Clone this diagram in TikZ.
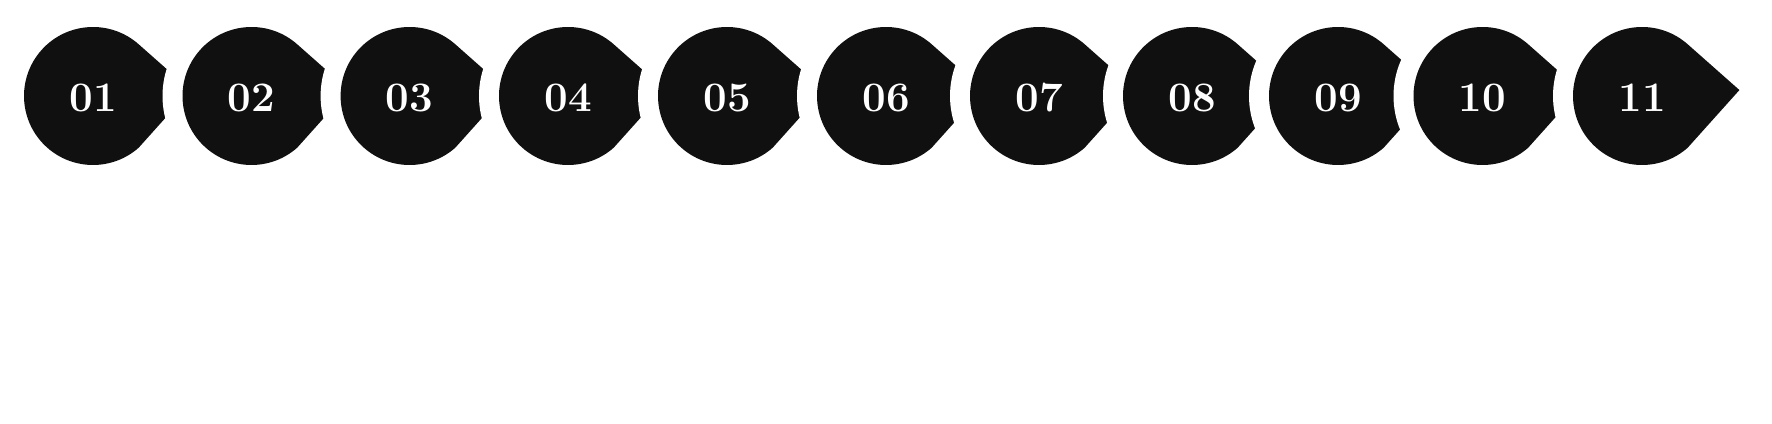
\documentclass[tikz,border=0pt]{standalone}
\usepackage{tikz}

\begin{document}
\begin{tikzpicture}[x=0.5pt,y=0.5pt,
    ink/.style={fill={rgb,255:red,16;green,16;blue,16}},
    gap/.style={fill=white},
    num/.style={text=white,inner sep=0pt,font=\fontsize{21}{25}\selectfont\bfseries}]
   \useasboundingbox (0,0) rectangle (1772,423);
    \fill[gap] (  93.0,327) circle(89);
    \fill[ink] (  93.0,327) +(3.5:97.58) -- +(48.5:69) arc(48.5:311.5:69) -- cycle;
    \fill[gap] ( 251.5,327) circle(89);
    \fill[ink] ( 251.5,327) +(3.5:97.58) -- +(48.5:69) arc(48.5:311.5:69) -- cycle;
    \fill[gap] ( 409.6,327) circle(89);
    \fill[ink] ( 409.6,327) +(3.5:97.58) -- +(48.5:69) arc(48.5:311.5:69) -- cycle;
    \fill[gap] ( 568.0,327) circle(89);
    \fill[ink] ( 568.0,327) +(3.5:97.58) -- +(48.5:69) arc(48.5:311.5:69) -- cycle;
    \fill[gap] ( 727.0,327) circle(89);
    \fill[ink] ( 727.0,327) +(3.5:97.58) -- +(48.5:69) arc(48.5:311.5:69) -- cycle;
    \fill[gap] ( 886.0,327) circle(89);
    \fill[ink] ( 886.0,327) +(3.5:97.58) -- +(48.5:69) arc(48.5:311.5:69) -- cycle;
    \fill[gap] (1039.0,327) circle(89);
    \fill[ink] (1039.0,327) +(3.5:97.58) -- +(48.5:69) arc(48.5:311.5:69) -- cycle;
    \fill[gap] (1192.0,327) circle(89);
    \fill[ink] (1192.0,327) +(3.5:97.58) -- +(48.5:69) arc(48.5:311.5:69) -- cycle;
    \fill[gap] (1338.0,327) circle(89);
    \fill[ink] (1338.0,327) +(3.5:97.58) -- +(48.5:69) arc(48.5:311.5:69) -- cycle;
    \fill[gap] (1482.5,327) circle(89);
    \fill[ink] (1482.5,327) +(3.5:97.58) -- +(48.5:69) arc(48.5:311.5:69) -- cycle;
    \fill[gap] (1642.0,327) circle(89);
    \fill[ink] (1642.0,327) +(3.5:97.58) -- +(48.5:69) arc(48.5:311.5:69) -- cycle;
    \node[num] (n01) at (  93.0,325) {01};
    \node[num] (n02) at ( 251.5,325) {02};
    \node[num] (n03) at ( 409.6,325) {03};
    \node[num] (n04) at ( 568.0,325) {04};
    \node[num] (n05) at ( 727.0,325) {05};
    \node[num] (n06) at ( 886.0,325) {06};
    \node[num] (n07) at (1039.0,325) {07};
    \node[num] (n08) at (1192.0,325) {08};
    \node[num] (n09) at (1338.0,325) {09};
    \node[num] (n10) at (1482.5,325) {10};
    \node[num] (n11) at (1642.0,325) {11};
  \end{tikzpicture}
\end{document}
